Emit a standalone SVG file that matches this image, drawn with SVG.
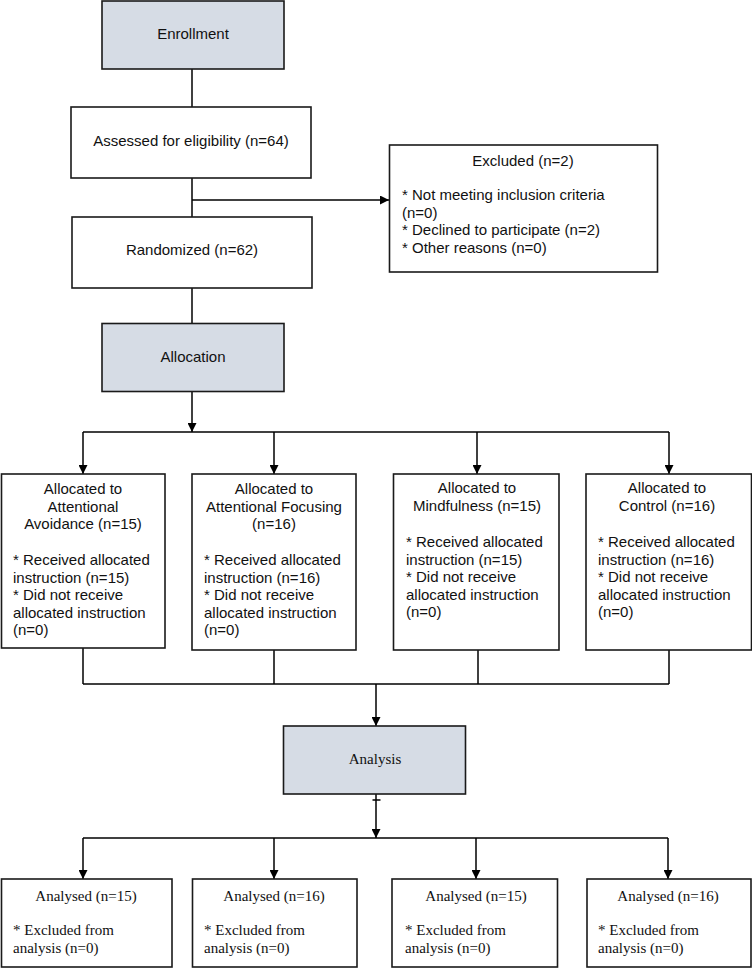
<svg xmlns="http://www.w3.org/2000/svg" width="752" height="968" viewBox="0 0 752 968">
<defs>
<marker id="ah" markerWidth="9" markerHeight="9" refX="9" refY="4.5" orient="auto" markerUnits="userSpaceOnUse">
<path d="M0,0 L9,4.5 L0,9 Z" fill="#000"/>
</marker>
<style>
.box{fill:#fff;stroke:#1a1a1a;stroke-width:1.6}
.hdr{fill:#d6dce5;stroke:#1a1a1a;stroke-width:1.6}
.ln{fill:none;stroke:#000;stroke-width:1.5}
.s{font-family:"Liberation Sans",Arial,sans-serif;font-size:15px;fill:#111}
.t{font-family:"Liberation Serif","Times New Roman",serif;font-size:15px;fill:#111}
.c{text-anchor:middle}
</style>
</defs>
<rect width="752" height="968" fill="#fff"/>
<g id="connectors">
<line class="ln" x1="192" y1="69" x2="192" y2="107"/>
<line class="ln" x1="192" y1="178" x2="192" y2="217"/>
<line class="ln" x1="192" y1="200" x2="389" y2="200" marker-end="url(#ah)"/>
<line class="ln" x1="192" y1="288" x2="192" y2="323"/>
<line class="ln" x1="192" y1="392" x2="192" y2="432" marker-end="url(#ah)"/>
<line class="ln" x1="83" y1="432" x2="669" y2="432"/>
<line class="ln" x1="83" y1="432" x2="83" y2="474" marker-end="url(#ah)"/>
<line class="ln" x1="274" y1="432" x2="274" y2="474" marker-end="url(#ah)"/>
<line class="ln" x1="477" y1="432" x2="477" y2="474" marker-end="url(#ah)"/>
<line class="ln" x1="669" y1="432" x2="669" y2="474" marker-end="url(#ah)"/>
<line class="ln" x1="83" y1="648" x2="83" y2="684"/>
<line class="ln" x1="274" y1="650" x2="274" y2="684"/>
<line class="ln" x1="478" y1="650" x2="478" y2="684"/>
<line class="ln" x1="669" y1="650" x2="669" y2="684"/>
<line class="ln" x1="83" y1="684" x2="669" y2="684"/>
<line class="ln" x1="376" y1="684" x2="376" y2="726" marker-end="url(#ah)"/>
<line class="ln" x1="376" y1="794" x2="376" y2="838" marker-end="url(#ah)"/>
<line class="ln" x1="372.5" y1="800" x2="380.5" y2="800"/>
<line class="ln" x1="83" y1="838" x2="668" y2="838"/>
<line class="ln" x1="83" y1="838" x2="83" y2="879" marker-end="url(#ah)"/>
<line class="ln" x1="274" y1="838" x2="274" y2="879" marker-end="url(#ah)"/>
<line class="ln" x1="476" y1="838" x2="476" y2="879" marker-end="url(#ah)"/>
<line class="ln" x1="668" y1="838" x2="668" y2="879" marker-end="url(#ah)"/>
</g>
<g id="enrollment">
<rect class="hdr" x="102" y="1" width="182" height="68"/>
<text class="s c" x="193" y="39">Enrollment</text>
</g>
<g id="assessed">
<rect class="box" x="71" y="107" width="240" height="71"/>
<text class="s c" x="191" y="146">Assessed for eligibility (n=64)</text>
</g>
<g id="excluded">
<rect class="box" x="389.5" y="145" width="268" height="127"/>
<text class="s c" x="523" y="166">Excluded (n=2)</text>
<text class="s" x="402" y="200">* Not meeting inclusion criteria</text>
<text class="s" x="402" y="217.5">(n=0)</text>
<text class="s" x="402" y="235">* Declined to participate (n=2)</text>
<text class="s" x="402" y="252.5">* Other reasons (n=0)</text>
</g>
<g id="randomized">
<rect class="box" x="72" y="217" width="240" height="71"/>
<text class="s c" x="192" y="255">Randomized (n=62)</text>
</g>
<g id="allocation">
<rect class="hdr" x="102" y="323.5" width="182" height="68"/>
<text class="s c" x="193" y="362">Allocation</text>
</g>
<g id="alloc-avoidance">
<rect class="box" x="1.5" y="474" width="163.5" height="174"/>
<text class="s c" x="83" y="494">Allocated to</text>
<text class="s c" x="83" y="511.5">Attentional</text>
<text class="s c" x="83" y="529">Avoidance (n=15)</text>
<text class="s" x="13" y="565">* Received allocated</text>
<text class="s" x="13" y="582.5">instruction (n=15)</text>
<text class="s" x="13" y="600">* Did not receive</text>
<text class="s" x="13" y="617.5">allocated instruction</text>
<text class="s" x="13" y="635">(n=0)</text>
</g>
<g id="alloc-focusing">
<rect class="box" x="192" y="474" width="164" height="176"/>
<text class="s c" x="274" y="494">Allocated to</text>
<text class="s c" x="274" y="511.5">Attentional Focusing</text>
<text class="s c" x="274" y="529">(n=16)</text>
<text class="s" x="204" y="565">* Received allocated</text>
<text class="s" x="204" y="582.5">instruction (n=16)</text>
<text class="s" x="204" y="600">* Did not receive</text>
<text class="s" x="204" y="617.5">allocated instruction</text>
<text class="s" x="204" y="635">(n=0)</text>
</g>
<g id="alloc-mindfulness">
<rect class="box" x="393.5" y="474" width="165.5" height="176"/>
<text class="s c" x="477" y="493">Allocated to</text>
<text class="s c" x="477" y="511">Mindfulness (n=15)</text>
<text class="s" x="406" y="547">* Received allocated</text>
<text class="s" x="406" y="564.5">instruction (n=15)</text>
<text class="s" x="406" y="582">* Did not receive</text>
<text class="s" x="406" y="599.5">allocated instruction</text>
<text class="s" x="406" y="617">(n=0)</text>
</g>
<g id="alloc-control">
<rect class="box" x="586" y="474" width="165.5" height="176"/>
<text class="s c" x="667" y="493">Allocated to</text>
<text class="s c" x="667" y="511">Control (n=16)</text>
<text class="s" x="598" y="547">* Received allocated</text>
<text class="s" x="598" y="564.5">instruction (n=16)</text>
<text class="s" x="598" y="582">* Did not receive</text>
<text class="s" x="598" y="599.5">allocated instruction</text>
<text class="s" x="598" y="617">(n=0)</text>
</g>
<g id="analysis">
<rect class="hdr" x="283.5" y="726" width="182" height="68"/>
<text class="t c" x="375" y="764">Analysis</text>
</g>
<g id="analysed-1">
<rect class="box" x="1.5" y="879" width="170.5" height="88"/>
<text class="t c" x="86" y="901">Analysed (n=15)</text>
<text class="t" x="13" y="934.5">* Excluded from</text>
<text class="t" x="13" y="953">analysis (n=0)</text>
</g>
<g id="analysed-2">
<rect class="box" x="192.5" y="879" width="164.5" height="88"/>
<text class="t c" x="274" y="901">Analysed (n=16)</text>
<text class="t" x="204" y="934.5">* Excluded from</text>
<text class="t" x="204" y="953">analysis (n=0)</text>
</g>
<g id="analysed-3">
<rect class="box" x="392" y="879" width="165.5" height="88"/>
<text class="t c" x="476" y="901">Analysed (n=15)</text>
<text class="t" x="405" y="934.5">* Excluded from</text>
<text class="t" x="405" y="953">analysis (n=0)</text>
</g>
<g id="analysed-4">
<rect class="box" x="587" y="879" width="164" height="88"/>
<text class="t c" x="668" y="901">Analysed (n=16)</text>
<text class="t" x="598" y="934.5">* Excluded from</text>
<text class="t" x="598" y="953">analysis (n=0)</text>
</g>
</svg>
